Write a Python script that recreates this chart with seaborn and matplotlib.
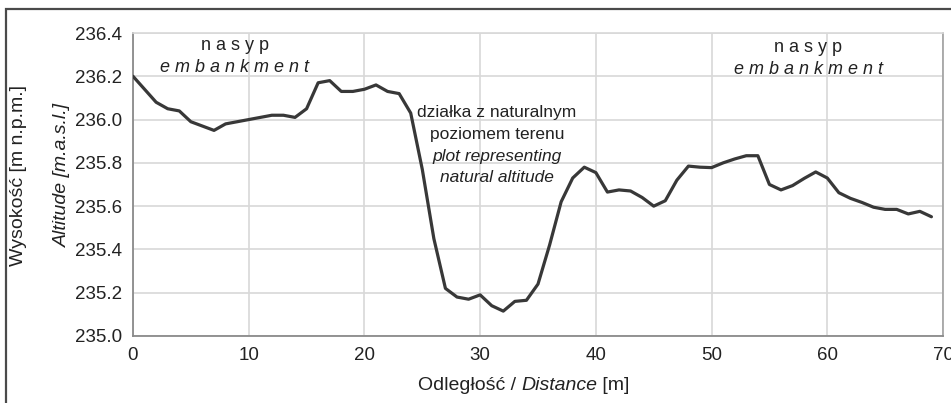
import matplotlib
matplotlib.use("Agg")
import matplotlib.pyplot as plt
import seaborn as sns
import pandas as pd
from matplotlib.patches import Rectangle

distance = list(range(0, 70))
altitude = [236.20, 236.14, 236.08, 236.05, 236.04, 235.99, 235.97, 235.95, 235.98, 235.99,
            236.00, 236.01, 236.02, 236.02, 236.01, 236.05, 236.17, 236.18, 236.13, 236.13,
            236.14, 236.16, 236.13, 236.12, 236.03, 235.77, 235.45, 235.22, 235.18, 235.17,
            235.19, 235.14, 235.115, 235.16, 235.165, 235.24, 235.42, 235.62, 235.73, 235.78,
            235.755, 235.665, 235.675, 235.67, 235.64, 235.60, 235.625, 235.72, 235.785, 235.78,
            235.778, 235.80, 235.818, 235.833, 235.833, 235.70, 235.675, 235.695, 235.728, 235.758,
            235.73, 235.662, 235.636, 235.617, 235.595, 235.585, 235.585, 235.564, 235.576, 235.551]

xticks = [0, 10, 20, 30, 40, 50, 60, 70]
yticks = [235.0, 235.2, 235.4, 235.6, 235.8, 236.0, 236.2, 236.4]

df = pd.DataFrame({"distance": distance, "altitude": altitude})

sns.set_style("white")
plt.rcParams['font.family'] = ['Liberation Sans Narrow', 'Liberation Sans', 'DejaVu Sans']

W, H = 951, 403
fig = plt.figure(figsize=(W / 100, H / 100), dpi=100)
ax = fig.add_axes([133 / W, 1 - 336 / H, 810 / W, 303 / H])

sns.lineplot(data=df, x="distance", y="altitude", ax=ax, color="#383838", linewidth=2.3, zorder=3)

ax.set_xlim(0, 70)
ax.set_ylim(235.0, 236.4)
ax.set_xticks(xticks)
ax.set_yticks(yticks)
ax.set_xticklabels([str(t) for t in xticks])
ax.set_yticklabels([f"{t:.1f}" for t in yticks])
ax.grid(True, color="#d8d8d8", linewidth=1.2, zorder=0)
ax.set_axisbelow(True)
ax.tick_params(axis="both", which="major", labelsize=13.5, colors="#222222",
               length=5, width=1.0, direction="out", pad=3)
ax.tick_params(axis="both", color="#888888")
for side in ["left", "bottom"]:
    ax.spines[side].set_color("#8a8a8a")
    ax.spines[side].set_linewidth(1.3)
ax.spines["right"].set_color("#a0a0a0")
ax.spines["right"].set_linewidth(1.2)
ax.spines["top"].set_color("#d8d8d8")
ax.spines["top"].set_linewidth(1.2)
ax.set_xlabel("")
ax.set_ylabel("")

# figure frame (left and top visible)
fig.patches.append(Rectangle((6 / W, -0.1), 1.2, 1 - 9 / H + 0.1, transform=fig.transFigure,
                             fill=False, edgecolor="#4a4a4a", linewidth=1.6))

# axis labels
fig.text(19 / W, 1 - 175 / H, "Wysokość [m n.p.m.]", rotation=90, ha="center", va="center",
         fontsize=14, color="#222222")
fig.text(62 / W, 1 - 175 / H, "Altitude [m.a.s.l.]", rotation=90, ha="center", va="center",
         fontsize=14, color="#222222", style="italic")

t1 = fig.text(418 / W, 1 - 385 / H, "Odległość / ", ha="left", va="center", fontsize=14, color="#222222")
t2 = ax.annotate("Distance", xy=(1, 0.5), xycoords=t1, ha="left", va="center",
                 fontsize=14, color="#222222", style="italic", annotation_clip=False)
t3 = ax.annotate(" [m]", xy=(1, 0.5), xycoords=t2, ha="left", va="center",
                 fontsize=14, color="#222222", annotation_clip=False)

# annotations
ann = dict(color="#222222", ha="center", va="center")
fig.text(235 / W, 1 - 46 / H, "n a s y p", fontsize=13, **ann)
fig.text(235 / W, 1 - 68 / H, "e m b a n k m e n t", style="italic", fontsize=13, **ann)
fig.text(808 / W, 1 - 47 / H, "n a s y p", fontsize=13, **ann)
fig.text(808 / W, 1 - 69 / H, "e m b a n k m e n t", style="italic", fontsize=13, **ann)
fig.text(497 / W, 1 - 112 / H, "działka z naturalnym", fontsize=12.5, **ann)
fig.text(497 / W, 1 - 134 / H, "poziomem terenu", fontsize=12.5, **ann)
fig.text(497 / W, 1 - 156 / H, "plot representing", style="italic", fontsize=12.5, **ann)
fig.text(497 / W, 1 - 177 / H, "natural altitude", style="italic", fontsize=12.5, **ann)

fig.savefig("out.png", dpi=100)
